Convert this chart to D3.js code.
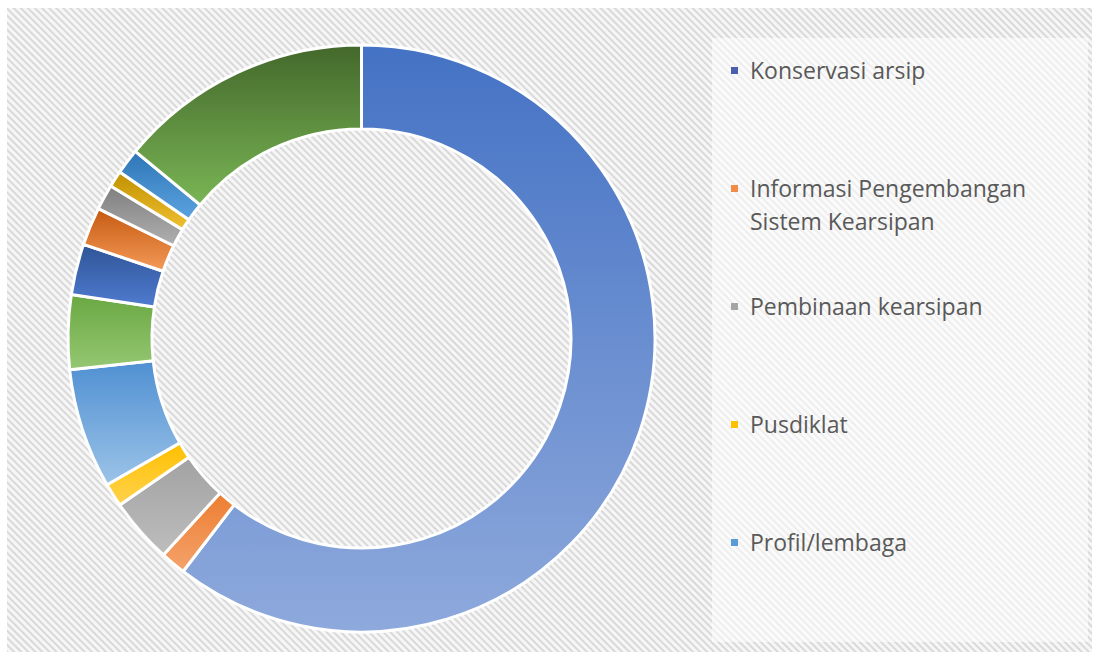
<!DOCTYPE html>
<html>
<head>
<meta charset="utf-8">
<script src="https://cdn.jsdelivr.net/npm/d3@7"></script>
<style>
  body { margin: 0; background: #fff; }
</style>
</head>
<body>
<div id="chart"></div>
<script>
// slice data, clockwise from 12 o'clock (only first 5 show up in the legend)
const categories = [
  'Konservasi arsip',
  'Informasi Pengembangan Sistem Kearsipan',
  'Pembinaan kearsipan',
  'Pusdiklat',
  'Profil/lembaga',
  'Kategori 6',
  'Kategori 7',
  'Kategori 8',
  'Kategori 9',
  'Kategori 10',
  'Kategori 11',
  'Kategori 12'
];
const values = [60.4, 1.4, 3.6, 1.3, 6.6, 4.1, 2.8, 2.1, 1.4, 0.9, 1.4, 14.0];
const legendLines = [
  ['Konservasi arsip'],
  ['Informasi Pengembangan', 'Sistem Kearsipan'],
  ['Pembinaan kearsipan'],
  ['Pusdiklat'],
  ['Profil/lembaga']
];
// top / bottom colour of each slice gradient
const topColors = ['#4472c4', '#ed7d31', '#a2a2a2', '#ffc000', '#4f90d2', '#6aa843', '#2f5597', '#c55a11', '#7f7f7f', '#bf9000', '#2e75b6', '#43682b'];
const bottomColors = ['#8ea9dc', '#f4a36c', '#bdbdbd', '#ffd24d', '#9cc3e8', '#95c772', '#4f7bd0', '#f49a58', '#b0b0b0', '#f0c030', '#5ba3e0', '#7ab555'];
const legendColors = ['#4a5fae', '#f08c45', '#a5a5a5', '#ffc000', '#5b9bd5'];

const width = 1099, height = 663;
const cx = 361.5, cy = 338.5;
const outerR = 293.5, innerR = 209.5;

const svg = d3.select('#chart').append('svg')
    .attr('width', width)
    .attr('height', height);

const defs = svg.append('defs');

const hatch = defs.append('pattern')
    .attr('id', 'hatch')
    .attr('patternUnits', 'userSpaceOnUse')
    .attr('width', 5)
    .attr('height', 5)
    .attr('patternTransform', 'rotate(45)');
hatch.append('rect').attr('width', 5).attr('height', 5).attr('fill', '#f6f6f6');
hatch.append('line')
    .attr('x1', 0).attr('y1', 1).attr('x2', 5).attr('y2', 1)
    .attr('stroke', '#d0d0d0')
    .attr('stroke-width', 1.5);

values.forEach((v, i) => {
  const g = defs.append('linearGradient')
      .attr('id', 'grad' + i)
      .attr('x1', 0).attr('y1', 0).attr('x2', 0).attr('y2', 1);
  g.append('stop').attr('offset', '0%').attr('stop-color', topColors[i]);
  g.append('stop').attr('offset', '100%').attr('stop-color', bottomColors[i]);
});

// chart area
svg.append('rect')
    .attr('x', 7).attr('y', 8)
    .attr('width', 1085).attr('height', 644)
    .attr('fill', 'url(#hatch)');

// legend panel
svg.append('rect')
    .attr('x', 712).attr('y', 38)
    .attr('width', 376).attr('height', 604)
    .attr('fill', '#ffffff')
    .attr('fill-opacity', 0.55);

const pie = d3.pie().sort(null).value(d => d);
const arc = d3.arc().innerRadius(innerR).outerRadius(outerR);

svg.append('g')
    .attr('transform', `translate(${cx},${cy})`)
  .selectAll('path')
  .data(pie(values))
  .join('path')
    .attr('d', arc)
    .attr('fill', (d, i) => `url(#grad${i})`)
    .attr('stroke', '#ffffff')
    .attr('stroke-width', 3)
    .attr('stroke-linejoin', 'round');

// legend
const legendY = d3.scalePoint()
    .domain(d3.range(legendLines.length))
    .range([71, 543]);

const item = svg.append('g')
  .selectAll('g')
  .data(legendLines)
  .join('g')
    .attr('transform', (d, i) => `translate(731,${legendY(i)})`);

item.append('rect')
    .attr('x', 0).attr('y', -4)
    .attr('width', 7).attr('height', 7)
    .attr('fill', (d, i) => legendColors[i]);

item.append('text')
    .attr('x', 19)
    .attr('y', 0)
    .attr('fill', '#595959')
    .style('font', '23px "Open Sans", sans-serif')
  .selectAll('tspan')
  .data(d => d)
  .join('tspan')
    .attr('x', 19)
    .attr('dy', (d, j) => j === 0 ? '0.35em' : '1.42em')
    .text(d => d);
</script>
</body>
</html>
